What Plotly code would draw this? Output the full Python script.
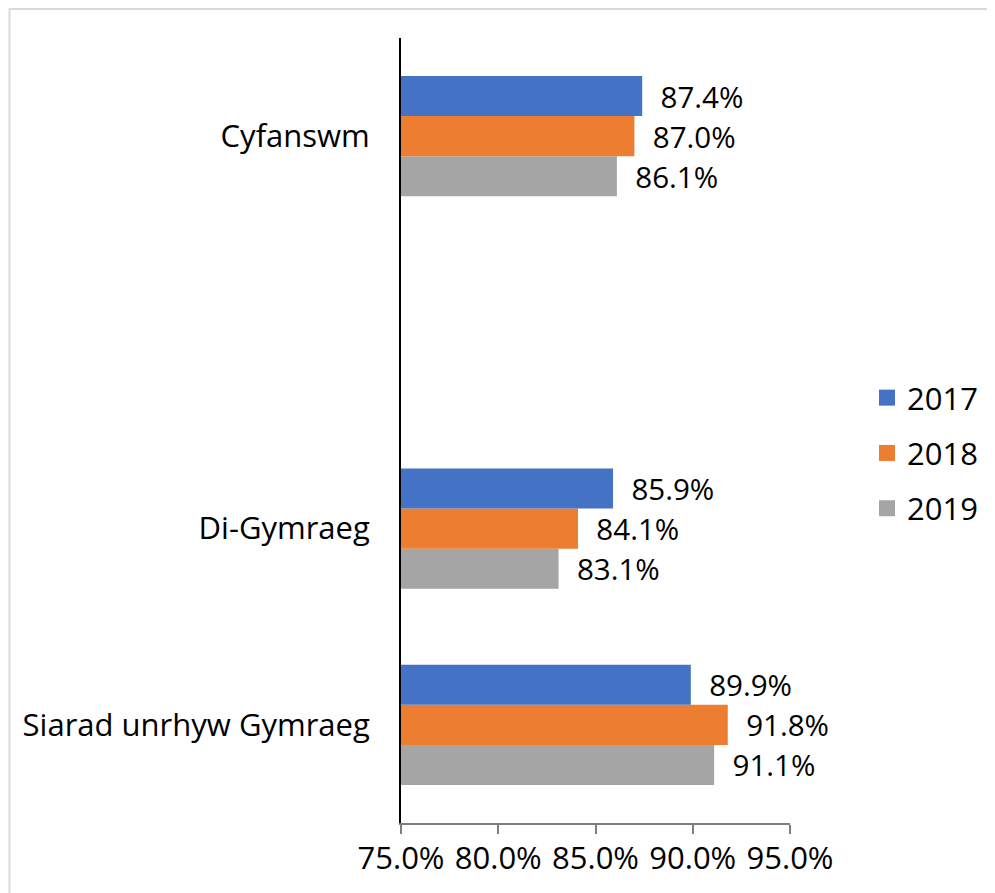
import plotly.graph_objects as go

categories = ["Siarad unrhyw Gymraeg", "Di-Gymraeg", " ", "Cyfanswm"]
years = ["2017", "2018", "2019"]
values = {
    "2017": [89.9, 85.9, None, 87.4],
    "2018": [91.8, 84.1, None, 87.0],
    "2019": [91.1, 83.1, None, 86.1],
}
colors = {"2017": "#4472C4", "2018": "#ED7D31", "2019": "#A5A5A5"}
tick_vals = [75, 80, 85, 90, 95]
tick_text = ["75.0%", "80.0%", "85.0%", "90.0%", "95.0%"]

FONT = "Open Sans"
FS = 31
fig = go.Figure()
for rank, yr in reversed(list(enumerate(years))):
    vals = values[yr]
    fig.add_trace(go.Bar(
        name=yr,
        y=categories,
        x=vals,
        orientation="h",
        marker=dict(color=colors[yr], line=dict(width=0)),
        text=["\u00a0\u00a0" + f"{v:.1f}%" if v is not None else "" for v in vals],
        textposition="outside",
        textfont=dict(family=FONT, size=FS, color="#000000"),
        cliponaxis=False,
        showlegend=False,
    ))

# legend entries (square swatches)
for rank, yr in enumerate(years):
    fig.add_trace(go.Scatter(
        name=yr,
        x=[None], y=[None],
        mode="markers",
        marker=dict(symbol="square", size=16, color=colors[yr]),
        legendrank=rank + 1,
        legendgroup=yr,
        showlegend=True,
    ))

OFF = 8  # page body margin
W, H = 995, 893
L, R, T, B = 401 - OFF, 995 - (790 - OFF), 38 - OFF, 893 - (823 - OFF)
pw = W - L - R
ph = H - T - B

def px_to_paper_x(px):
    return (px - OFF - L) / pw

def px_to_paper_y(py):
    return (H - B - (py - OFF)) / ph

fig.update_layout(
    width=W, height=H,
    margin=dict(l=L, r=R, t=T, b=B, pad=0),
    paper_bgcolor="white",
    plot_bgcolor="white",
    barmode="group",
    bargap=0.388,
    bargroupgap=0,
    font=dict(family=FONT, size=FS, color="#000000"),
    showlegend=True,
    legend=dict(
        x=px_to_paper_x(867), y=px_to_paper_y(453),
        xanchor="left", yanchor="middle",
        font=dict(family=FONT, size=FS, color="#000000"),
        traceorder="grouped",
        tracegroupgap=12,
        bgcolor="rgba(0,0,0,0)",
        itemsizing="trace",
        itemwidth=30,
    ),
    xaxis=dict(
        range=[75, 95],
        tickvals=tick_vals,
        ticktext=tick_text,
        showgrid=False,
        zeroline=False,
        showline=True,
        linecolor="#7F7F7F",
        linewidth=2,
        ticks="outside",
        ticklen=9,
        tickwidth=2,
        tickcolor="#7F7F7F",
        ticklabelstandoff=-2,
        tickfont=dict(family=FONT, size=FS, color="#000000"),
    ),
    yaxis=dict(
        type="category",
        categoryorder="array",
        categoryarray=categories,
        range=[-0.5, 3.5],
        showgrid=False,
        zeroline=False,
        showline=True,
        linecolor="#000000",
        linewidth=2,
        ticks="",
        ticklabelstandoff=23,
        tickfont=dict(family=FONT, size=FS, color="#000000"),
    ),
    shapes=[dict(
        type="rect", xref="paper", yref="paper",
        x0=px_to_paper_x(9.5), x1=px_to_paper_x(1010),
        y0=px_to_paper_y(910), y1=px_to_paper_y(9),
        line=dict(color="#D9D9D9", width=2),
        fillcolor="rgba(0,0,0,0)",
        layer="below",
    )],
)

fig.write_html("out.html")
